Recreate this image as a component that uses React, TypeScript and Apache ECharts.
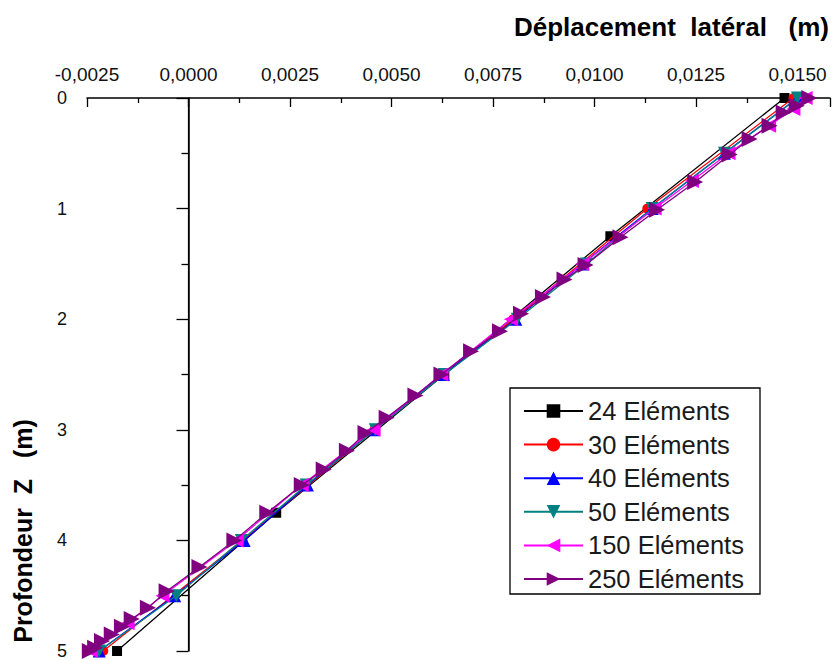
import React, { useEffect, useRef } from "react";
import * as echarts from "echarts";

// ---- data ----
const seriesNames = [
  "24 Eléments",
  "30 Eléments",
  "40 Eléments",
  "50 Eléments",
  "150 Eléments",
  "250 Eléments",
];

const xTickStep = 0.0025;
const yTickLabels = [0, 1, 2, 3, 4, 5];

const depth24 = [0, 1.25, 2.5, 3.75, 5];
const disp24 = [0.01468, 0.01039, 0.0063, 0.00216, -0.00176];

const depth30 = [0, 1, 2, 3, 4, 5];
const disp30 = [0.0149, 0.0113, 0.008, 0.00458, 0.00133, -0.0021];

const depth40 = [0, 0.5, 1, 1.5, 2, 2.5, 3, 3.5, 4, 4.5, 5];
const disp40 = [0.015, 0.0132, 0.01142, 0.0097, 0.00806, 0.00628, 0.00456, 0.00293, 0.00137, -0.00034, -0.0022];

const depth50 = [0, 0.5, 1, 1.5, 2, 2.5, 3, 3.5, 4, 4.5, 5];
const disp50 = [0.015, 0.0132, 0.01142, 0.0098, 0.0081, 0.0063, 0.0046, 0.0029, 0.0013, -0.0003, -0.0022];

const depth150 = [0, 0.1, 0.25, 0.5, 0.75, 1, 1.5, 2, 2.5, 3, 3.5, 4, 4.5, 4.75, 5];
const disp150 = [0.0152, 0.0149, 0.0143, 0.0133, 0.0124, 0.01148, 0.0097, 0.00794, 0.00623, 0.00456, 0.00279, 0.00118, -0.00064, -0.0015, -0.0024];

const depth250 = [
  0, 0.07, 0.13, 0.25, 0.37, 0.51, 0.76, 1.01, 1.26, 1.51, 1.64, 1.8, 1.95, 2.11, 2.29, 2.5, 2.69,
  2.89, 3.03, 3.19, 3.36, 3.5, 3.75, 4.0, 4.24, 4.46, 4.61, 4.71, 4.78, 4.85, 4.91, 4.97, 5.0,
];
const disp250 = [
  0.01529, 0.01498, 0.01466, 0.01431, 0.01382, 0.01333, 0.01248, 0.01154, 0.01064, 0.00978,
  0.00926, 0.00873, 0.00819, 0.00767, 0.00696, 0.00623, 0.00559, 0.00488, 0.00436, 0.0039,
  0.00333, 0.00279, 0.00194, 0.00113, 0.00027, -0.00054, -0.001, -0.0014, -0.00164, -0.00189,
  -0.00213, -0.0023, -0.00243,
];

const colors = ["#000000", "#ff0000", "#0000ff", "#008080", "#ff00ff", "#800080"];
const symbols = ["rect", "circle", "triangle", "triangle", "triangle", "triangle"];
const rotations = [0, 0, 0, 180, 90, -90];
const sizes = [10, 10, 13, 13, 14, 16];

const FONT = "'Liberation Sans', Arial, Helvetica, sans-serif";

function zip(xs: number[], ys: number[]) {
  return xs.map((x, i) => [x, ys[i]]);
}

export default function App() {
  const ref = useRef<HTMLDivElement>(null);

  useEffect(() => {
    if (!ref.current) return;
    const chart = echarts.init(ref.current, undefined, { renderer: "svg" });

    const allData = [
      zip(disp24, depth24),
      zip(disp30, depth30),
      zip(disp40, depth40),
      zip(disp50, depth50),
      zip(disp150, depth150),
      zip(disp250, depth250),
    ];

    const series: any[] = allData.map((d, i) => ({
      name: seriesNames[i],
      type: "line",
      data: d,
      symbol: symbols[i],
      symbolSize: sizes[i],
      symbolRotate: rotations[i],
      showAllSymbol: true,
      clip: false,
      lineStyle: { color: colors[i], width: 1.3 },
      itemStyle: { color: colors[i], borderWidth: 0 },
      z: 2 + i * 0.01,
    }));

    series[0].markLine = {
      silent: true,
      symbol: ["none", "none"],
      label: { show: false },
      lineStyle: { color: "#000", width: 1.2, type: "solid" },
      data: [{ xAxis: 0 }],
    };

    chart.setOption({
      animation: false,
      backgroundColor: "#ffffff",
      grid: { left: 87, right: 0, top: 98, bottom: 4 },
      xAxis: {
        type: "value",
        position: "top",
        min: -0.0025,
        max: 0.0158,
        interval: xTickStep,
        axisLine: { show: true, lineStyle: { color: "#000", width: 1.5 } },
        axisTick: { show: true, inside: true, length: 9, lineStyle: { color: "#000", width: 1.3 } },
        minorTick: { show: true, splitNumber: 2, length: 5, lineStyle: { color: "#000", width: 1.3 } },
        splitLine: { show: false },
        axisLabel: {
          margin: 14,
          fontSize: 19,
          fontFamily: FONT,
          color: "#111",
          formatter: (v: number) => {
            const k = Math.round(v / xTickStep);
            if (Math.abs(v / xTickStep - k) > 1e-6) return "";
            return ((k * 25) / 10000).toFixed(4).replace(".", ",");
          },
        },
      },
      yAxis: {
        type: "value",
        inverse: true,
        min: yTickLabels[0],
        max: yTickLabels[yTickLabels.length - 1],
        interval: 1,
        axisLine: { show: true, lineStyle: { color: "#000", width: 1.5 } },
        axisTick: { show: true, inside: false, length: 12, lineStyle: { color: "#000", width: 1.3 } },
        minorTick: { show: true, splitNumber: 2, length: 7, lineStyle: { color: "#000", width: 1.3 } },
        splitLine: { show: false },
        axisLabel: { margin: 20, fontSize: 18, fontFamily: FONT, color: "#111" },
      },
      legend: {
        orient: "vertical",
        left: 523,
        top: 398,
        itemWidth: 59,
        itemHeight: 17,
        itemGap: 7.6,
        padding: 0,
        textStyle: { fontSize: 25.5, fontFamily: FONT, color: "#1a1a1a" },
        data: seriesNames,
      },
      graphic: [
        {
          type: "rect",
          shape: { x: 510, y: 388, width: 250, height: 206 },
          style: { fill: "none", stroke: "#000", lineWidth: 1.3 },
          silent: true,
        },
        {
          type: "text",
          right: 4,
          top: 14,
          style: {
            text: "Déplacement  latéral   (m)",
            font: `bold 26px ${FONT}`,
            fill: "#000",
          },
        },
        {
          type: "text",
          x: 23,
          y: 531,
          rotation: Math.PI / 2,
          style: {
            text: "Profondeur  Z   (m)",
            font: `bold 25px ${FONT}`,
            fill: "#000",
            align: "center",
            verticalAlign: "middle",
          },
        },
      ],
      series,
    });

    return () => chart.dispose();
  }, []);

  return (
    <div
      ref={ref}
      style={{ position: "absolute", left: 0, top: 0, width: 833, height: 660 }}
    />
  );
}
